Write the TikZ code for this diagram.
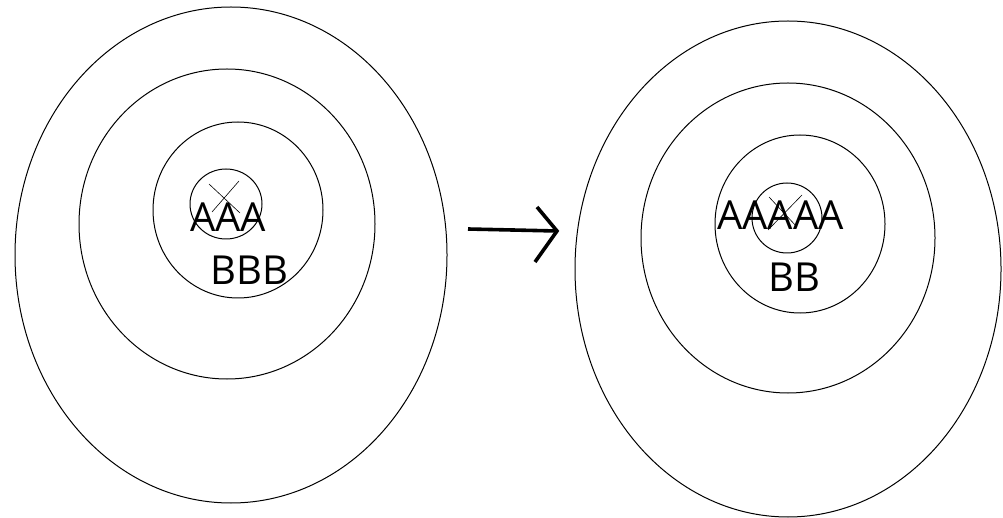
\documentclass[tikz,border=0pt]{standalone}
\usepackage{fontspec}
\setmainfont{Open Sans}
\begin{document}
\begin{tikzpicture}[x=1pt,y=-1pt,
  ring/.style={draw=black,line width=1pt},
  crossline/.style={draw=black,line width=0.6pt},
  label/.style={inner sep=0pt,anchor=base west,font=\fontsize{40}{40}\selectfont},
  arrowline/.style={draw=black,line width=3.6pt}]
\useasboundingbox[fill=white] (0,0) rectangle (1003,518);
% left target
\draw[ring] (231,255) ellipse [x radius=216,y radius=248];
\draw[ring] (227,224) ellipse [x radius=148,y radius=155];
\draw[ring] (238,210) ellipse [x radius=85,y radius=88];
\draw[ring] (226,204) ellipse [x radius=36,y radius=35];
\coordinate (l1) at (209,184); \coordinate (l2) at (240,213);
\coordinate (l3) at (239,181); \coordinate (l4) at (212,212);
\draw[crossline] (l1) -- (l2);
\draw[crossline] (l3) -- (l4);
\node[label] (aaa) at (190,232) {AAA};
\node[label] (bbb) at (210,285) {BBB};
% arrow
\coordinate (as) at (468,229);
\coordinate (at) at (557,231);
\coordinate (au) at (537,207);
\coordinate (ad) at (535,262);
\draw[arrowline] (as) -- (at);
\draw[arrowline,line join=miter] (au) -- (at) -- (ad);
% right target
\draw[ring] (788,269) ellipse [x radius=213,y radius=248];
\draw[ring] (788,238) ellipse [x radius=147,y radius=155];
\draw[ring] (800,224) ellipse [x radius=85,y radius=89];
\draw[ring] (787,218) ellipse [x radius=35,y radius=35];
\coordinate (r1) at (769,197); \coordinate (r2) at (797,227);
\coordinate (r3) at (802,195); \coordinate (r4) at (768,230);
\draw[crossline] (r1) -- (r2);
\draw[crossline] (r3) -- (r4);
\node[label] (aaaaa) at (717,230) {AAAAA};
\node[label] (bb) at (768,292) {BB};
\end{tikzpicture}
\end{document}
